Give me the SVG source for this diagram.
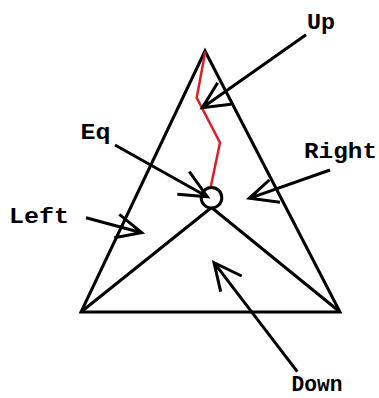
<svg xmlns="http://www.w3.org/2000/svg" width="379" height="398" viewBox="0 0 379 398">
<style>
.s{fill:none;stroke:#000;stroke-width:3;stroke-linecap:butt;stroke-linejoin:miter}
.r{fill:none;stroke:#dc1e28;stroke-width:2.5;stroke-linejoin:miter}
.t{font-family:"Liberation Mono","Courier New",monospace;font-weight:bold;font-size:22px;fill:#000}
</style>
<rect width="379" height="398" fill="#fff"/>
<g id="triangle">
<path class="s" d="M205,51 L81,312 L340,312 Z"/>
<path class="s" d="M81,312 L211.5,207.5 L340,312"/>
</g>
<g id="path-red">
<polyline class="r" points="205.3,51.5 196.7,97.7 220,142.7 210.7,187"/>
</g>
<g id="eq">
<circle cx="211.5" cy="197.7" r="10.3" fill="#fff" stroke="#000" stroke-width="3"/>
</g>
<g id="connectors">
<path class="s" d="M306,34.7 L202.3,107.7 M217.7,82.7 L202.3,107.7 L231,104.3"/>
<path class="s" d="M330,170 L249.3,198.3 M269.3,180 L249.3,198.3 L280,202.3"/>
<path class="s" d="M115,145 L207.3,196.7 M189.3,171.7 L207.3,196.7 L177.3,194.3"/>
<path class="s" d="M86,217.7 L141.7,232.7 M119.3,214.3 L141.7,232.7 L114.3,237.7"/>
<path class="s" d="M297.3,371.7 L214,262.7 M241.7,276 L214,262.7 L220.7,291.7"/>
</g>
<g id="label-up"><text class="t" x="307" y="29" textLength="28" lengthAdjust="spacingAndGlyphs">Up</text></g>
<g id="label-right"><text class="t" x="304" y="158" textLength="73" lengthAdjust="spacingAndGlyphs">Right</text></g>
<g id="label-eq"><text class="t" x="80.5" y="139" textLength="30" lengthAdjust="spacingAndGlyphs">Eq</text></g>
<g id="label-left"><text class="t" x="9" y="223" textLength="60" lengthAdjust="spacingAndGlyphs">Left</text></g>
<g id="label-down"><text class="t" x="291.5" y="391" textLength="51" lengthAdjust="spacingAndGlyphs">Down</text></g>
</svg>
